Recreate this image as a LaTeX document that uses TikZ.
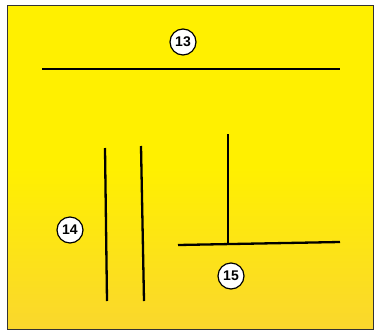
\documentclass[tikz,border=0pt]{standalone}
\usepackage{fontspec}
\setmainfont{Liberation Sans}
\definecolor{yelA}{RGB}{255,240,0}
\definecolor{yelB}{RGB}{250,215,45}
\tikzset{
  num/.style={circle,draw=black,fill=white,line width=1.2pt,inner sep=0pt,minimum size=26pt,font=\bfseries\fontsize{14}{14}\selectfont},
  bar/.style={line width=2.3pt,black}
}
\begin{document}
\begin{tikzpicture}[x=1pt,y=-1pt]
\useasboundingbox (0,0) rectangle (380,335);
\fill[white] (0,0) rectangle (380,335);
\shade[top color=yelA,bottom color=yelB,middle color=yelA] (7,5) rectangle (373,329);
\draw[line width=1pt,black!80] (7,5) rectangle (373,329);
\node[num] (n13) at (183,42) {13};
\node[num] (n14) at (70,230) {14};
\node[num] (n15) at (231,276) {15};
\coordinate (a1) at (42,69);
\coordinate (a2) at (340,69);
\draw[bar] (a1) -- (a2);
\coordinate (b1) at (105,148);
\coordinate (b2) at (107,301);
\draw[bar] (b1) -- (b2);
\coordinate (c1) at (141,146);
\coordinate (c2) at (144,301);
\draw[bar] (c1) -- (c2);
\coordinate (d1) at (228,134);
\coordinate (d2) at (228,244);
\draw[bar] (d1) -- (d2);
\coordinate (e1) at (178,245);
\coordinate (e2) at (340,242);
\draw[bar] (e1) -- (e2);
\end{tikzpicture}
\end{document}
